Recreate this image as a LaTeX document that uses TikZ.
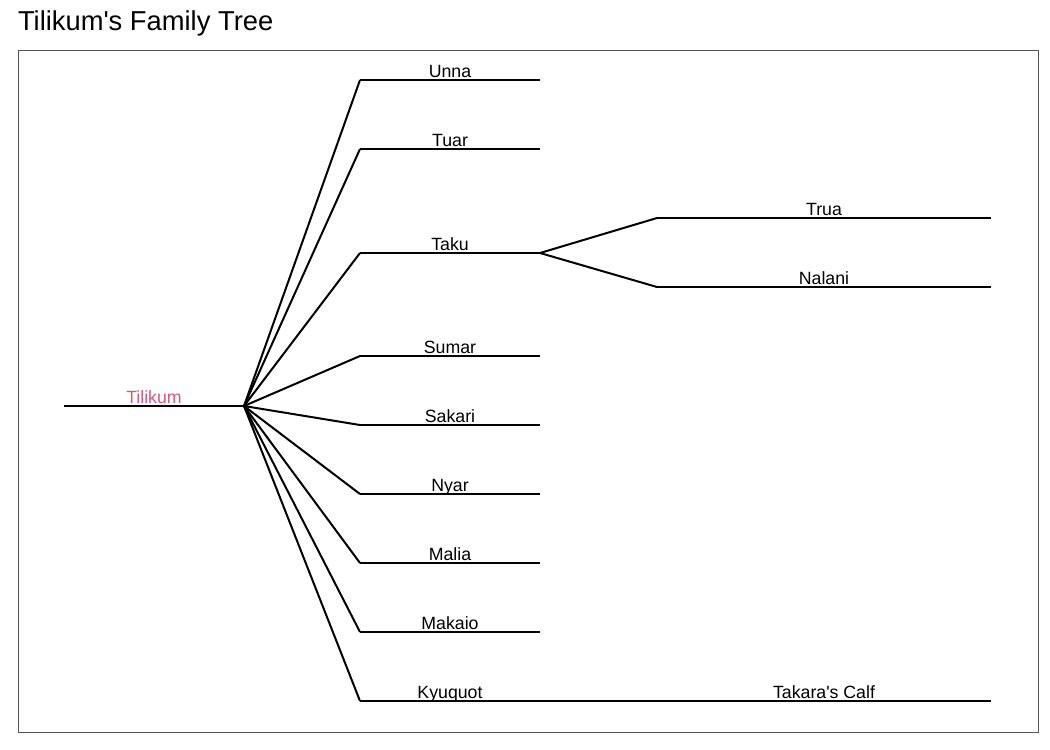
\documentclass[tikz,border=0pt]{standalone}
\usepackage{fontspec}
\setmainfont{Liberation Sans}
\usepackage{tikz}
\usetikzlibrary{positioning}
\definecolor{tilipink}{RGB}{217,88,122}
\definecolor{framegray}{RGB}{85,85,85}

\begin{document}
\begin{tikzpicture}[x=0.75pt,y=-0.75pt,line width=1.5pt,
      branch/.style={draw,black},
      name node/.style={anchor=base,inner sep=0pt,font=\fontsize{13.3}{15}\selectfont}]
      \useasboundingbox (0,0) rectangle (1050,750);
      \node[anchor=base west,inner sep=0pt,font=\fontsize{20.5}{24}\selectfont] (title) at (17,30) {Tilikum\textquotesingle s Family Tree};
      \draw[framegray,line width=0.75pt] (18,50) rectangle (1038,732);

      % Tilikum
      \coordinate (tilS) at (64,406);
      \coordinate (tilE) at (244,406);
      \node[name node,text=tilipink] (tilikum) at (154,403) {Tilikum};

      % children
      \coordinate (unnaS) at (360,80);    \coordinate (unnaE) at (540,80);
      \coordinate (tuarS) at (360,149);   \coordinate (tuarE) at (540,149);
      \coordinate (takuS) at (360,253);   \coordinate (takuE) at (540,253);
      \coordinate (sumarS) at (360,356);  \coordinate (sumarE) at (540,356);
      \coordinate (sakariS) at (360,425); \coordinate (sakariE) at (540,425);
      \coordinate (nyarS) at (360,494);   \coordinate (nyarE) at (540,494);
      \coordinate (maliaS) at (360,563);  \coordinate (maliaE) at (540,563);
      \coordinate (makaioS) at (360,632); \coordinate (makaioE) at (540,632);
      \coordinate (kyuS) at (360,701);    \coordinate (kyuE) at (540,701);

      \node[name node] (unna) at (450,77) {Unna};
      \node[name node] (tuar) at (450,146) {Tuar};
      \node[name node] (taku) at (450,250) {Taku};
      \node[name node] (sumar) at (450,353) {Sumar};
      \node[name node] (sakari) at (450,422) {Sakari};
      \node[name node] (nyar) at (450,491) {Nyar};
      \node[name node] (malia) at (450,560) {Malia};
      \node[name node] (makaio) at (450,629) {Makaio};
      \node[name node] (kyuquot) at (450,698) {Kyuquot};

      % grandchildren
      \coordinate (truaS) at (657,218);   \coordinate (truaE) at (991,218);
      \coordinate (nalaniS) at (657,287); \coordinate (nalaniE) at (991,287);
      \coordinate (calfS) at (657,701);   \coordinate (calfE) at (991,701);

      \node[name node] (trua) at (824,215) {Trua};
      \node[name node] (nalani) at (824,284) {Nalani};
      \node[name node] (calf) at (824,698) {Takara\textquotesingle s Calf};

      \path[branch,line join=round]
        (tilS) edge (tilE)
        (tilE) edge (unnaS)    (unnaS) edge (unnaE)
        (tilE) edge (tuarS)    (tuarS) edge (tuarE)
        (tilE) edge (takuS)    (takuS) edge (takuE)
        (tilE) edge (sumarS)   (sumarS) edge (sumarE)
        (tilE) edge (sakariS)  (sakariS) edge (sakariE)
        (tilE) edge (nyarS)    (nyarS) edge (nyarE)
        (tilE) edge (maliaS)   (maliaS) edge (maliaE)
        (tilE) edge (makaioS)  (makaioS) edge (makaioE)
        (tilE) edge (kyuS)     (kyuS) edge (kyuE)
        (takuE) edge (truaS)   (truaS) edge (truaE)
        (takuE) edge (nalaniS) (nalaniS) edge (nalaniE)
        (kyuE) edge (calfS)    (calfS) edge (calfE);
\end{tikzpicture}
\end{document}
